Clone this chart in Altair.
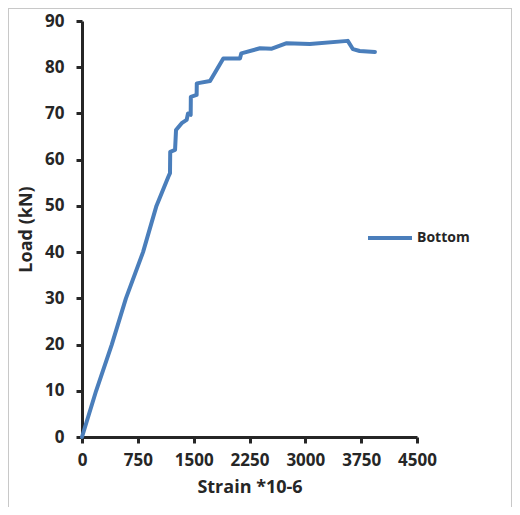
import altair as alt
import pandas as pd

strain = [0, 190, 400, 590, 820, 1000, 1160, 1182, 1185, 1250, 1263, 1339, 1406, 1424, 1460, 1462,
          1540, 1542, 1720, 1898, 2122, 2140, 2391, 2550, 2750, 3060, 3570, 3640, 3730, 3935]
load = [0, 10, 20, 30, 40, 50, 56.3, 57.1, 61.7, 62.1, 66.4, 67.9, 68.6, 70, 69.7, 73.6,
        74, 76.5, 77, 81.9, 81.9, 83, 84.1, 84, 85.2, 85, 85.7, 83.9, 83.5, 83.3]
series = ["Bottom"] * len(strain)

x_ticks = [0, 750, 1500, 2250, 3000, 3750, 4500]
y_ticks = [0, 10, 20, 30, 40, 50, 60, 70, 80, 90]

df = pd.DataFrame({"strain": strain, "load": load, "series": series})

FONT = "Open Sans"
TXT = "#262626"
BLUE = "#4a7ebb"

line = alt.Chart(df).mark_line(strokeWidth=4, color=BLUE, strokeJoin="round", strokeCap="round").encode(
    x=alt.X("strain:Q", scale=alt.Scale(domain=[0, 4500], nice=False),
            axis=alt.Axis(values=x_ticks, title="Strain *10-6", grid=False, format="d",
                          labelFlush=False, labelOverlap=False,
                          tickSize=6, tickWidth=3, domainWidth=3,
                          labelPadding=9, titlePadding=10)),
    y=alt.Y("load:Q", scale=alt.Scale(domain=[0, 90], nice=False),
            axis=alt.Axis(values=y_ticks, title="Load (kN)", grid=False, format="d",
                          labelFlush=False, labelOverlap=False,
                          tickSize=6, tickWidth=3, domainWidth=3,
                          labelPadding=12, titlePadding=9)),
    color=alt.Color("series:N", scale=alt.Scale(range=[BLUE]),
                    legend=alt.Legend(title=None, orient="none", legendX=284, legendY=193,
                                      symbolType="stroke", symbolSize=1936, symbolStrokeWidth=4,
                                      labelFont=FONT, labelFontSize=14, labelFontWeight="bold",
                                      labelColor=TXT, labelOffset=3)),
    order=alt.Order("strain:Q"),
)

border_color = "#c8c8c8"
border = [
    alt.Chart(df).mark_rule(color=border_color, strokeWidth=1).encode(
        x=alt.value(-73.5), y=alt.value(-13), y2=alt.value(490)),
    alt.Chart(df).mark_rule(color=border_color, strokeWidth=1).encode(
        x=alt.value(429.5), y=alt.value(-13), y2=alt.value(490)),
    alt.Chart(df).mark_rule(color=border_color, strokeWidth=1).encode(
        x=alt.value(-74), x2=alt.value(430), y=alt.value(-12.5)),
]

chart = alt.layer(line, *border).properties(
    width=335, height=416,
    autosize=alt.AutoSizeParams(type="none"),
    padding={"left": 74, "top": 13, "right": 95, "bottom": 70},
).configure_view(stroke=None).configure_axis(
    labelFont=FONT, labelFontSize=17, labelFontWeight="bold", labelColor=TXT,
    titleFont=FONT, titleFontSize=18, titleFontWeight="bold", titleColor=TXT,
    domainColor=TXT, tickColor=TXT,
)

chart.save("out.html", embed_options={"renderer": "svg", "actions": False})
